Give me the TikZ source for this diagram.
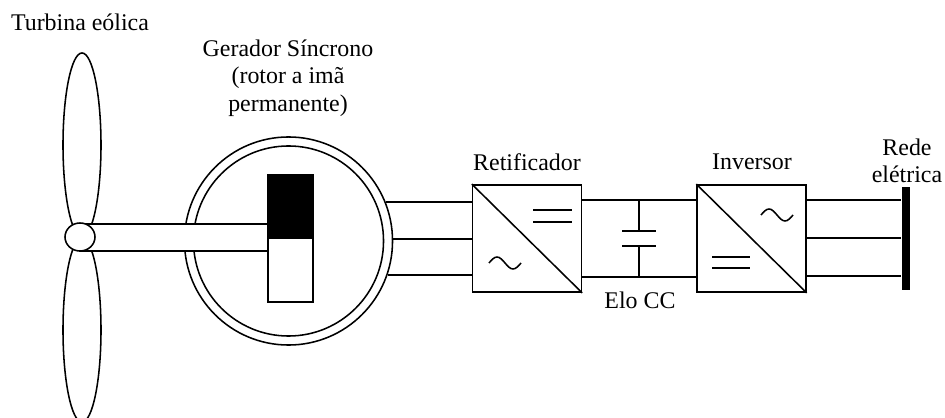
\documentclass[tikz,border=0pt]{standalone}
\usepackage{fontspec}
\setmainfont{Liberation Serif}
\usetikzlibrary{shapes.geometric, calc, positioning}
\tikzstyle{blade} = [ellipse, draw=black, fill=white, minimum width=0.95cm, minimum height=4.6cm, inner sep=0pt]
\tikzstyle{conv} = [rectangle, draw=black, fill=white, minimum width=2.72cm, minimum height=2.68cm, inner sep=0pt]
\tikzstyle{magnet} = [rectangle, draw=black, minimum width=1.12cm, inner sep=0pt]
\tikzstyle{lbl} = [align=center, font=\fontsize{17}{19.5}\selectfont, inner sep=0pt]
\tikzstyle{wire} = [draw=black, line width=1.2pt]
\begin{document}
\begin{tikzpicture}[x=0.025cm, y=-0.025cm, line width=1.1pt]
    \useasboundingbox (0,0) rectangle (945,418);
    \clip (0,0) rectangle (945,418);
    % turbina
    \node (bladeup) [blade] at (82,145) {};
    \node (bladedn) [blade] at (82,330) {};
    % gerador
    \node (gen) [circle, draw, minimum size=5.2cm] at (288.5,241) {};
    \node (genin) [circle, draw, minimum size=4.75cm] at (gen) {};
    \node (magN) [magnet, fill=black, minimum height=1.575cm] at (290.5,206.5) {};
    \node (magS) [magnet, fill=white, minimum height=1.6cm] at (290.5,270) {};
    \draw [fill=white] (80,224) rectangle (magN.west |- 0,251);
    \node (hub) [ellipse, draw, fill=white, minimum width=0.75cm, minimum height=0.7cm, inner sep=0pt] at (80,237) {};
    % conversores
    \node (ret) [conv] at (527,238.5) {};
    \node (inv) [conv] at (751.5,238.5) {};
    \draw (ret.north west) -- (ret.south east);
    \draw (inv.north west) -- (inv.south east);
    \draw ($(ret)+(6,-28.5)$) -- ++(39,0);
    \draw ($(ret)+(6,-16.5)$) -- ++(39,0);
    \draw ($(ret)+(-38,24.5)$) sin ++(8,-6) cos ++(8,6) sin ++(8,6) cos ++(8,-6);
    \draw ($(inv)+(-39.5,18.5)$) -- ++(38,0);
    \draw ($(inv)+(-39.5,29.5)$) -- ++(38,0);
    \draw ($(inv)+(9.5,-23.5)$) sin ++(8,-6) cos ++(8,6) sin ++(8,6) cos ++(8,-6);
    % lado CA
    \foreach \a in {22.62,1.65,-19.67}
        \draw [wire] (gen.\a) -- (gen.\a -| ret.west);
    % elo CC
    \coordinate (dctop) at ($(ret.north east)+(0,16)$);
    \coordinate (dcbot) at ($(ret.south east)+(0,-16)$);
    \draw [wire] (dctop) -- (dctop -| inv.west);
    \draw [wire] (dcbot) -- (dcbot -| inv.west);
    \coordinate (capt) at (639,231);
    \coordinate (capb) at (639,246);
    \draw [wire] (capt |- dctop) -- (capt);
    \draw [wire] (capb) -- (capb |- dcbot);
    \draw [wire] ($(capt)+(-17,0)$) -- ($(capt)+(17,0)$);
    \draw [wire] ($(capb)+(-17,0)$) -- ($(capb)+(17,0)$);
    % rede
    \node (rede) [rectangle, fill=black, minimum width=0.2cm, minimum height=2.58cm, inner sep=0pt] at (906,238.5) {};
    \foreach \dy in {-38.5,-0.5,37.5} {
        \coordinate (gridin) at ($(inv.east)+(0,\dy)$);
        \draw [wire] (gridin) -- (gridin -| rede.west);
    }
    % textos
    \node (lblturb) [lbl] at (80,22) {Turbina eólica};
    \node (lblgen) [lbl] at (288,78) {Gerador Síncrono\\(rotor a imã\\permanente)};
    \node (lblret) [lbl] at (527,162) {Retificador};
    \node (lblinv) [lbl] at (752,162) {Inversor};
    \node (lblelo) [lbl] at (640,300) {Elo CC};
    \node (lblrede) [lbl] at (907,161) {Rede\\elétrica};
\end{tikzpicture}
\end{document}
